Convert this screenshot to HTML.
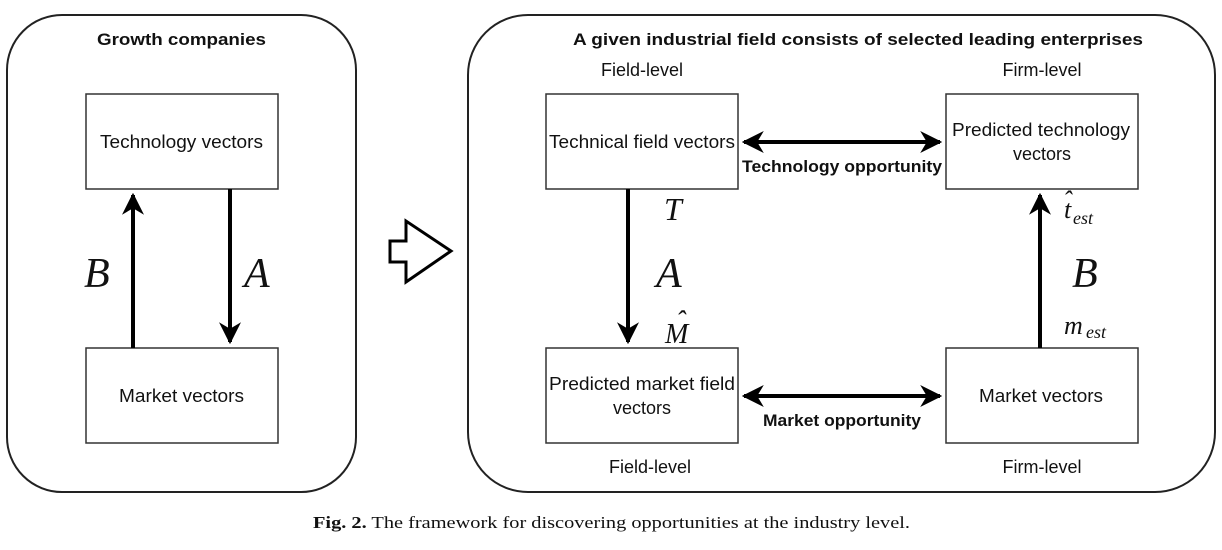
<!DOCTYPE html>
<html><head><meta charset="utf-8"><style>
html,body{margin:0;padding:0;background:#fff;}
svg{display:block;}
.s{font-family:"Liberation Sans",sans-serif;font-size:18px;fill:#111;}
.b{font-family:"Liberation Sans",sans-serif;font-size:17px;font-weight:bold;fill:#111;}
.m{font-family:"Liberation Serif",serif;font-style:italic;fill:#111;}
</style></head><body>
<svg width="1222" height="550" viewBox="0 0 1222 550" xmlns="http://www.w3.org/2000/svg">
<defs>
<marker id="ah" viewBox="0 0 10 10" refX="9" refY="5" markerWidth="5.5" markerHeight="5.5" orient="auto-start-reverse">
<path d="M0,0 L10,5 L0,10 L3,5 z" fill="#000"/></marker>
</defs>
<g fill="none" stroke="#222" stroke-width="2">
<rect x="7" y="15" width="349" height="477" rx="55"/>
<rect x="468" y="15" width="747" height="477" rx="60"/>
</g>
<g fill="#fff" stroke="#333" stroke-width="1.5">
<rect x="86" y="94" width="192" height="95"/>
<rect x="86" y="348" width="192" height="95"/>
<rect x="546" y="94" width="192" height="95"/>
<rect x="946" y="94" width="192" height="95"/>
<rect x="546" y="348" width="192" height="95"/>
<rect x="946" y="348" width="192" height="95"/>
</g>
<g stroke="#000" stroke-width="4" fill="none">
<line x1="133" y1="348" x2="133" y2="195" marker-end="url(#ah)"/>
<line x1="230" y1="189" x2="230" y2="342" marker-end="url(#ah)"/>
<line x1="628" y1="189" x2="628" y2="342" marker-end="url(#ah)"/>
<line x1="1040" y1="348" x2="1040" y2="195" marker-end="url(#ah)"/>
<line x1="744" y1="142" x2="940" y2="142" marker-start="url(#ah)" marker-end="url(#ah)"/>
<line x1="744" y1="396" x2="940" y2="396" marker-start="url(#ah)" marker-end="url(#ah)"/>
</g>
<path d="M390,241 L406,241 L406,221 L451,251 L406,282 L406,262 L390,262 Z" fill="#fff" stroke="#000" stroke-width="3"/>
<text class="b" x="97" y="45" textLength="169" lengthAdjust="spacingAndGlyphs">Growth companies</text>
<text class="b" x="573" y="45" textLength="570" lengthAdjust="spacingAndGlyphs">A given industrial field consists of selected leading enterprises</text>
<text class="s" x="100" y="148" textLength="163" lengthAdjust="spacingAndGlyphs">Technology vectors</text>
<text class="s" x="119" y="402" textLength="125" lengthAdjust="spacingAndGlyphs">Market vectors</text>
<text class="s" x="549" y="148" textLength="186" lengthAdjust="spacingAndGlyphs">Technical field vectors</text>
<text class="s" x="952" y="136" textLength="178" lengthAdjust="spacingAndGlyphs">Predicted technology</text>
<text class="s" x="1042" y="160" text-anchor="middle">vectors</text>
<text class="s" x="549" y="390" textLength="186" lengthAdjust="spacingAndGlyphs">Predicted market field</text>
<text class="s" x="642" y="414" text-anchor="middle">vectors</text>
<text class="s" x="979" y="402" textLength="124" lengthAdjust="spacingAndGlyphs">Market vectors</text>
<text class="s" x="642" y="76" text-anchor="middle">Field-level</text>
<text class="s" x="1042" y="76" text-anchor="middle">Firm-level</text>
<text class="s" x="650" y="473" text-anchor="middle">Field-level</text>
<text class="s" x="1042" y="473" text-anchor="middle">Firm-level</text>
<text class="b" x="742" y="172" textLength="200" lengthAdjust="spacingAndGlyphs">Technology opportunity</text>
<text class="b" x="763" y="426" textLength="158" lengthAdjust="spacingAndGlyphs">Market opportunity</text>
<text class="m" x="84" y="287" font-size="42">B</text>
<text class="m" x="244" y="287" font-size="42">A</text>
<text class="m" x="656" y="287" font-size="42">A</text>
<text class="m" x="1072" y="287" font-size="42">B</text>
<text class="m" x="664" y="220" font-size="32">T</text>
<text class="m" x="665" y="343" font-size="28">M</text>
<text class="m" x="676" y="330" font-size="28">ˆ</text>
<text class="m" x="1064" y="218" font-size="26">t</text>
<text class="m" x="1063" y="209" font-size="26">ˆ</text>
<text class="m" x="1073" y="224" font-size="18">est</text>
<text class="m" x="1064" y="334" font-size="26">m</text>
<text class="m" x="1086" y="338" font-size="18">est</text>
<text x="313" y="528" font-family="'Liberation Serif',serif" font-size="17" fill="#111" textLength="597" lengthAdjust="spacingAndGlyphs"><tspan font-weight="bold">Fig. 2.</tspan> The framework for discovering opportunities at the industry level.</text>
</svg>
</body></html>
